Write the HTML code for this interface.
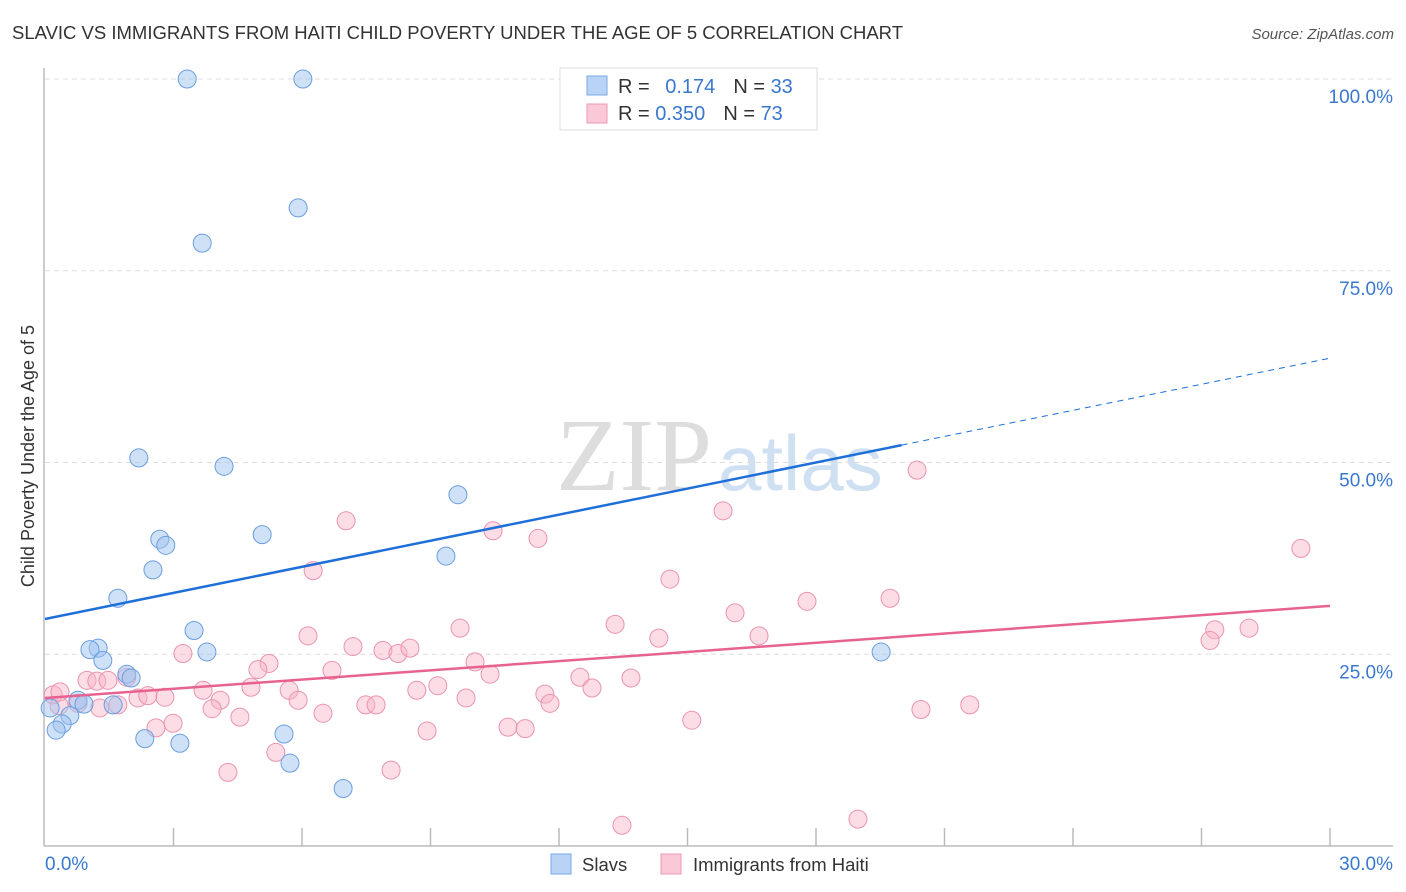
<!DOCTYPE html>
<html><head><meta charset="utf-8"><style>
body{margin:0;background:#fff;font-family:"Liberation Sans",sans-serif}
svg{display:block}
</style></head><body>
<svg width="1406" height="892" id="chart">
<text x="12" y="39" font-size="18" fill="#333" textLength="891" lengthAdjust="spacingAndGlyphs">SLAVIC VS IMMIGRANTS FROM HAITI CHILD POVERTY UNDER THE AGE OF 5 CORRELATION CHART</text>
<text x="1394" y="39" font-size="15" fill="#555" font-style="italic" text-anchor="end">Source: ZipAtlas.com</text>
<text x="0" y="0" transform="translate(34,456) rotate(-90)" font-size="18" fill="#333" text-anchor="middle">Child Poverty Under the Age of 5</text>
<text x="712" y="490" font-size="104" fill="#ddd" font-family="Liberation Serif,serif" text-anchor="end">ZIP</text>
<text x="718" y="490" font-size="78" fill="#cfe0f3">atlas</text>
<g id="grid"></g>
<g id="axes"></g>
<g id="pts"></g>
<g id="lines"></g>
<g>
<rect x="560" y="68" width="257" height="62" fill="#fff" stroke="#ddd"/>
<rect x="587" y="76" width="20" height="19" fill="#b8d3f5" stroke="#7aa8e6"/>
<rect x="587" y="104" width="20" height="19" fill="#fac8d7" stroke="#ee9ab5"/>
<text x="618" y="93" font-size="20" fill="#333">R = <tspan fill="#3a78d0" dx="10">0.174</tspan><tspan dx="18" fill="#333">N = </tspan><tspan fill="#3a78d0">33</tspan></text>
<text x="618" y="120" font-size="20" fill="#333">R = <tspan fill="#3a78d0">0.350</tspan><tspan dx="18" fill="#333">N = </tspan><tspan fill="#3a78d0">73</tspan></text>
</g>
<g>
<rect x="551" y="854" width="20" height="20" fill="#b8d3f5" stroke="#7aa8e6"/>
<text x="582" y="871" font-size="18.5" fill="#333">Slavs</text>
<rect x="661" y="854" width="20" height="20" fill="#fac8d7" stroke="#ee9ab5"/>
<text x="693" y="871" font-size="18.5" fill="#333">Immigrants from Haiti</text>
</g>
</svg>
<script>
const yTicks=[25,50,75,100];
const yTickLabels=["25.0%","50.0%","75.0%","100.0%"];
const xTickCount=10;
const slavX=[3.32,6.02,5.91,3.67,2.19,4.18,9.64,5.07,2.68,2.82,9.36,2.52,1.70,3.48,1.24,1.05,3.78,1.35,1.91,2.01,0.77,0.91,1.59,0.12,0.58,0.40,0.26,2.33,3.15,5.58,5.72,6.96,19.52];
const slavY=[100,100,83.2,78.6,50.6,49.5,45.8,40.6,40.0,39.2,37.8,36.0,32.3,28.1,25.8,25.6,25.3,24.2,22.4,21.9,19.0,18.5,18.4,18.0,17.0,15.9,15.1,14.0,13.4,14.6,10.8,7.5,25.3];
const haitiX=[20.36,29.32,7.03,15.83,10.46,11.51,6.26,14.59,16.11,17.79,19.73,13.31,9.69,6.14,14.33,16.67,27.31,28.11,27.20,7.19,7.89,8.24,8.52,3.22,5.23,4.97,10.04,6.70,10.39,12.49,13.68,12.77,9.17,4.81,5.70,8.68,3.69,11.67,2.80,2.17,2.40,9.83,5.91,4.09,3.90,11.79,7.49,7.73,6.49,4.55,1.70,0.19,0.35,0.98,1.21,1.47,0.77,2.99,2.59,10.81,11.21,8.92,15.10,20.45,21.59,5.39,4.27,8.08,13.47,18.98,1.91,0.33,1.28];
const haitiY=[49.0,38.8,42.4,43.7,41.1,40.1,35.9,34.8,30.4,31.9,32.3,28.9,28.4,27.4,27.1,27.4,28.2,28.4,26.8,26.0,25.5,25.1,25.8,25.1,23.8,23.0,24.0,22.9,22.4,22.0,21.9,20.6,20.9,20.7,20.3,20.3,20.3,19.8,19.4,19.3,19.6,19.3,19.0,19.0,17.9,18.6,18.4,18.4,17.3,16.8,18.4,19.7,20.1,21.6,21.5,21.6,18.6,16.0,15.4,15.5,15.3,15.0,16.4,17.8,18.4,12.2,9.6,9.9,2.7,3.5,22.0,18.3,18.0];
const slavTrend=[29.6,63.6];
const slavSolidEnd=20;
const haitiTrend=[19.3,31.3];

const NS="http://www.w3.org/2000/svg";
const X=v=>45+v/30*1285;
const Y=v=>846-v*7.67;
function mk(tag,attrs,parent){const e=document.createElementNS(NS,tag);for(const k in attrs)e.setAttribute(k,attrs[k]);document.getElementById(parent).appendChild(e);return e;}
yTicks.forEach((t,i)=>{
  const g=mk('line',{x1:45,x2:1393,y1:Y(t),y2:Y(t),stroke:'#ddd','stroke-dasharray':'5,4'},'grid');
  
  
  const l=mk('text',{x:1393,y:Y(t)+24,'font-size':19,fill:'#3a78d0','text-anchor':'end'},'grid');
  l.textContent=yTickLabels[i];
  
  
});
const ax=mk('line',{x1:44,x2:44,y1:68,y2:846,stroke:'#bbb','stroke-width':1.5},'axes');


const bx=mk('line',{x1:44,x2:1393,y1:846,y2:846,stroke:'#bbb','stroke-width':1.5},'axes');


for(let i=1;i<=xTickCount;i++){
  const t=mk('line',{x1:X(i*3),x2:X(i*3),y1:828,y2:846,stroke:'#bbb','stroke-width':1.5},'axes');
  
  
}
const x0=mk('text',{x:45,y:870,'font-size':19,fill:'#3a78d0'},'axes');x0.textContent='0.0%';


const x1=mk('text',{x:1393,y:870,'font-size':19,fill:'#3a78d0','text-anchor':'end'},'axes');x1.textContent='30.0%';


haitiX.forEach((v,i)=>{
  const c=mk('circle',{cx:X(v),cy:Y(haitiY[i]),r:9,fill:'rgba(248,180,200,0.45)',stroke:'#ea93b0','stroke-width':1},'pts');
  
  
});
slavX.forEach((v,i)=>{
  const c=mk('circle',{cx:X(v),cy:Y(slavY[i]),r:9,fill:'rgba(160,196,240,0.5)',stroke:'#6a9ee0','stroke-width':1},'pts');
  
  
});
const sy=x=>slavTrend[0]+(slavTrend[1]-slavTrend[0])*x/30;
const l1=mk('line',{x1:X(0),y1:Y(sy(0)),x2:X(slavSolidEnd),y2:Y(sy(slavSolidEnd)),stroke:'#1f6fd8','stroke-width':2.5},'lines');


const l2=mk('line',{x1:X(slavSolidEnd),y1:Y(sy(slavSolidEnd)),x2:X(30),y2:Y(sy(30)),stroke:'#1f6fd8','stroke-width':1,'stroke-dasharray':'6,5'},'lines');


const l3=mk('line',{x1:X(0),y1:Y(haitiTrend[0]),x2:X(30),y2:Y(haitiTrend[1]),stroke:'#e8628f','stroke-width':2.5},'lines');


</script>
</body></html>
